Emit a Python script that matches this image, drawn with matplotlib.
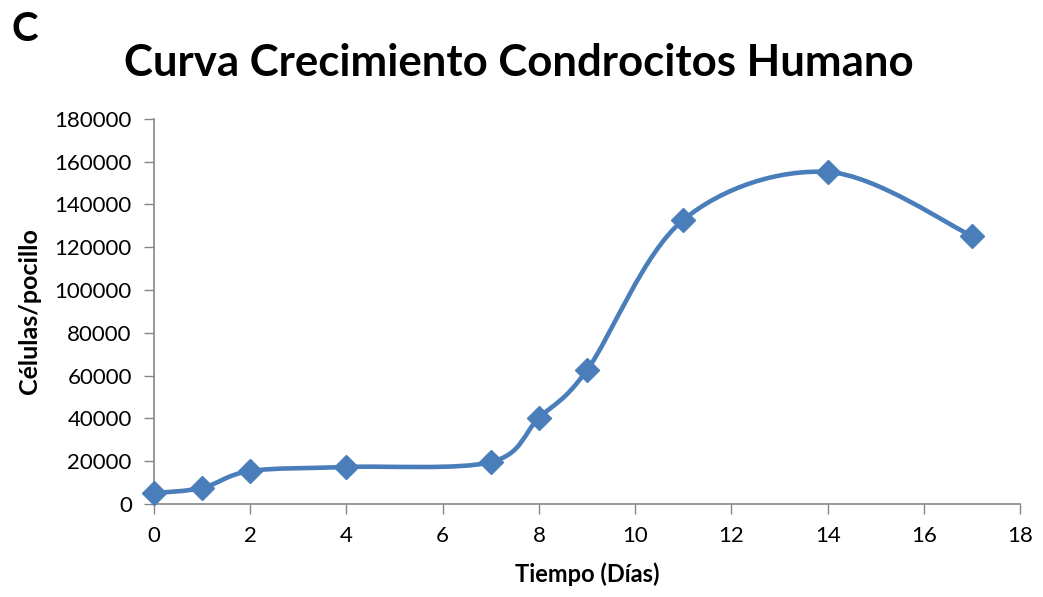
import matplotlib
matplotlib.use("Agg")
import matplotlib.pyplot as plt
from matplotlib.path import Path
from matplotlib.patches import PathPatch
import numpy as np

plt.rcParams["font.family"] = ["Lato", "DejaVu Sans"]

dias = [0, 1, 2, 4, 7, 8, 9, 11, 14, 17]
celulas = [5100, 7500, 15400, 17300, 19600, 40200, 62600, 132800, 155200, 125300]

x_ticks = list(range(0, 19, 2))
y_ticks = list(range(0, 180001, 20000))

LINE_COLOR = "#4A7EBB"
AXIS_COLOR = "#868686"


def smooth_path(xs, ys, k=1 / 6):
    # Bezier segments similar to Excel "smoothed line"
    pts = np.column_stack([xs, ys]).astype(float)
    n = len(pts)
    verts = [pts[0]]
    codes = [Path.MOVETO]
    for i in range(n - 1):
        p0 = pts[i - 1] if i > 0 else pts[i]
        p1 = pts[i]
        p2 = pts[i + 1]
        p3 = pts[i + 2] if i + 2 < n else pts[i + 1]
        c1 = p1 + (p2 - p0) * k
        c2 = p2 - (p3 - p1) * k
        verts += [c1, c2, p2]
        codes += [Path.CURVE4] * 3
    return Path(verts, codes)


fig = plt.figure(figsize=(10.43, 5.97), dpi=100)
ax = fig.add_axes([0.1477, 0.1558, 0.8303, 0.645])

ax.add_patch(PathPatch(smooth_path(dias, celulas), facecolor="none",
                       edgecolor=LINE_COLOR, lw=3.3, zorder=2))
ax.plot(dias, celulas, linestyle="none", marker="D", markersize=12,
        color=LINE_COLOR, zorder=3, clip_on=False)

ax.set_xlim(0, 18)
ax.set_ylim(0, 180000)
ax.set_xticks(x_ticks)
ax.set_yticks(y_ticks)
ax.tick_params(axis="both", direction="out", length=7, width=1,
               color=AXIS_COLOR, labelsize=16)
ax.tick_params(axis="x", pad=9)
ax.tick_params(axis="y", pad=9)

for side in ["top", "right"]:
    ax.spines[side].set_visible(False)
for side in ["left", "bottom"]:
    ax.spines[side].set_color(AXIS_COLOR)
    ax.spines[side].set_linewidth(1.2)

ax.set_xlabel("Tiempo (Días)", fontsize=17, fontweight="bold", labelpad=12)
ax.set_ylabel("Células/pocillo", fontsize=18, fontweight="bold", labelpad=10)

fig.text(0.497, 0.895, "Curva Crecimiento Condrocitos Humano",
         ha="center", va="center", fontsize=31.5, fontweight="bold")
fig.text(0.011, 0.95, "C", ha="left", va="center",
         fontsize=29, fontweight="bold")

fig.savefig("out.png", dpi=100)
